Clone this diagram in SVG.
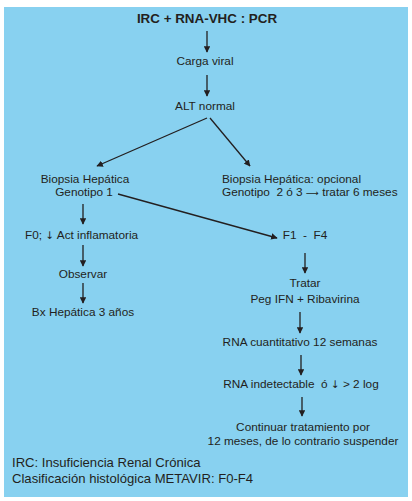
<svg xmlns="http://www.w3.org/2000/svg" width="412" height="501" viewBox="0 0 412 501">
<defs>
<marker id="ah" viewBox="0 0 10 10" refX="9" refY="5" markerWidth="6.5" markerHeight="6.5" markerUnits="userSpaceOnUse" orient="auto"><path d="M0,0 L10,5 L0,10 z" fill="#231f20"/></marker>
<style>
text{font-family:"Liberation Sans",Arial,sans-serif;font-size:11.8px;fill:#231f20}
.t{font-weight:bold;font-size:13.4px}
.c{text-anchor:middle}
.l{font-size:13.1px}
.e line,.e path{stroke:#231f20;stroke-width:1.3;fill:none;marker-end:url(#ah)}
</style>
</defs>
<rect x="4" y="7" width="404" height="490" fill="#88d1f0"/>
<g id="n-title"><text class="t c" x="207" y="23">IRC + RNA-VHC : PCR</text></g>
<g id="n-carga"><text class="c" x="205" y="65">Carga viral</text></g>
<g id="n-alt"><text class="c" x="205" y="110">ALT normal</text></g>
<g id="n-biop1"><text class="c" x="85" y="183">Biopsia Hepática</text><text class="c" x="84" y="196">Genotipo 1</text></g>
<g id="n-biop2"><text x="222" y="183">Biopsia Hepática: opcional</text><text x="222" y="196" xml:space="preserve">Genotipo  2 ó 3 <tspan font-family="DejaVu Sans" font-size="9">⟶</tspan> tratar 6 meses</text></g>
<g id="n-f0"><text x="25" y="239">F0; <tspan font-family="DejaVu Sans" font-size="10.5">↓</tspan> Act inflamatoria</text></g>
<g id="n-obs"><text class="c" x="83" y="278">Observar</text></g>
<g id="n-bx"><text class="c" x="83" y="316">Bx Hepática 3 años</text></g>
<g id="n-f1"><text class="c" x="305" y="239" xml:space="preserve">F1  -  F4</text></g>
<g id="n-tratar"><text class="c" x="305" y="287">Tratar</text><text class="c" x="305" y="303">Peg IFN + Ribavirina</text></g>
<g id="n-rnac"><text class="c" x="300" y="346">RNA cuantitativo 12 semanas</text></g>
<g id="n-rnai"><text class="c" x="301" y="388" xml:space="preserve">RNA indetectable  ó <tspan font-family="DejaVu Sans" font-size="10.5">↓</tspan> &gt; 2 log</text></g>
<g id="n-cont"><text class="c" x="303" y="431">Continuar tratamiento por</text><text class="c" x="303" y="445">12 meses, de lo contrario suspender</text></g>
<g id="n-legend"><text class="l" x="12" y="467">IRC: Insuficiencia Renal Crónica</text><text class="l" x="12" y="483">Clasificación histológica METAVIR: F0-F4</text></g>
<g id="connectors" class="e">
<line x1="207" y1="31" x2="207" y2="52"/>
<line x1="207" y1="75" x2="207" y2="96"/>
<line x1="207" y1="118" x2="97" y2="166"/>
<line x1="210" y1="118" x2="250" y2="166"/>
<line x1="83" y1="204" x2="83" y2="224"/>
<line x1="118" y1="194" x2="277" y2="238"/>
<line x1="83" y1="245" x2="83" y2="266"/>
<line x1="83" y1="283" x2="83" y2="303"/>
<line x1="305" y1="253" x2="305" y2="273"/>
<line x1="300" y1="312" x2="300" y2="333"/>
<line x1="301" y1="355" x2="301" y2="375"/>
<line x1="302" y1="397" x2="302" y2="416"/>
</g>
</svg>
